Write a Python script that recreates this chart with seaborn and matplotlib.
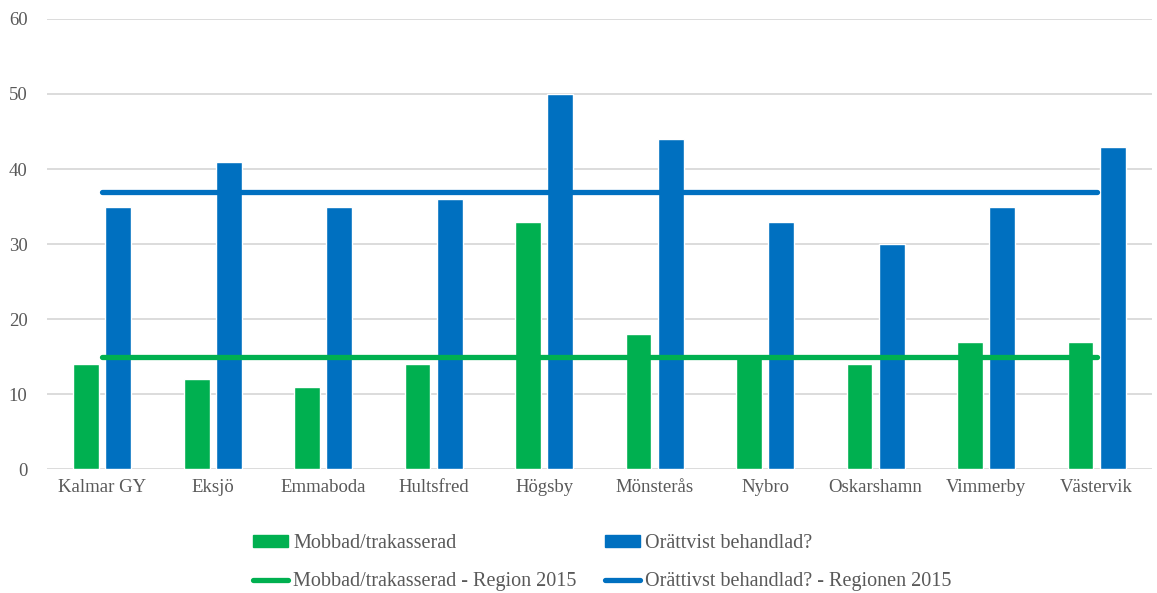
import pandas as pd
import matplotlib.pyplot as plt
import seaborn as sns
from matplotlib.patches import Patch
from matplotlib.lines import Line2D

kommuner = ["Kalmar GY", "Eksjö", "Emmaboda", "Hultsfred", "Högsby",
            "Mönsterås", "Nybro", "Oskarshamn", "Vimmerby", "Västervik"]
mobbad = [14, 12, 11, 14, 33, 18, 15, 14, 17, 17]
orattvist = [35, 41, 35, 36, 50, 44, 33, 30, 35, 43]
region_mobbad = [15] * len(kommuner)
region_orattvist = [37] * len(kommuner)

names = ["Mobbad/trakasserad", "Orättvist behandlad?",
         "Mobbad/trakasserad - Region 2015",
         "Orättivst behandlad? - Regionen 2015"]
green = "#00B050"
blue = "#0070C0"

df = pd.DataFrame({
    "kommun": kommuner * 2,
    "serie": [names[0]] * len(kommuner) + [names[1]] * len(kommuner),
    "value": mobbad + orattvist,
})

sns.set_style("white")
plt.rcParams["font.family"] = ["Liberation Serif", "DejaVu Serif"]

fig = plt.figure(figsize=(11.57, 5.93), dpi=100)
ax = fig.add_axes([0.0406, 0.209, 0.955, 0.759])

sns.barplot(data=df, x="kommun", y="value", hue="serie",
            palette=[green, blue], width=0.58, gap=0.2,
            saturation=1, legend=False, ax=ax, zorder=2)

ax.plot(range(len(kommuner)), region_mobbad, color=green, lw=3.8,
        solid_capstyle="round", zorder=3)
ax.plot(range(len(kommuner)), region_orattvist, color=blue, lw=3.8,
        solid_capstyle="round", zorder=3)

ax.set_ylim(0, 60)
ax.set_xlim(-0.5, len(kommuner) - 0.5)
ax.set_yticks(range(0, 61, 10))
ax.yaxis.grid(True, color="#D9D9D9", lw=1.3, zorder=0)
ax.set_axisbelow(True)
for s in ax.spines.values():
    s.set_visible(False)
ax.set_xlabel("")
ax.set_ylabel("")
ax.tick_params(axis="y", length=0, pad=14, labelsize=13.5, labelcolor="#595959")
ax.tick_params(axis="x", length=0, pad=7, labelsize=13.5, labelcolor="#595959")

handles = [
    Patch(color=green), Line2D([], [], color=green, lw=3.8, solid_capstyle="round"),
    Patch(color=blue), Line2D([], [], color=blue, lw=3.8, solid_capstyle="round"),
]
labels = [names[0], names[2], names[1], names[3]]
leg = fig.legend(handles, labels, ncol=2, loc="lower left",
                 bbox_to_anchor=(0.203, -0.028), frameon=False,
                 fontsize=14.5, handlelength=1.75, handleheight=0.55,
                 handletextpad=0.25, columnspacing=1.4, labelspacing=0.95)
for t in leg.get_texts():
    t.set_color("#595959")

plt.savefig("out.png", dpi=100)
plt.close()
